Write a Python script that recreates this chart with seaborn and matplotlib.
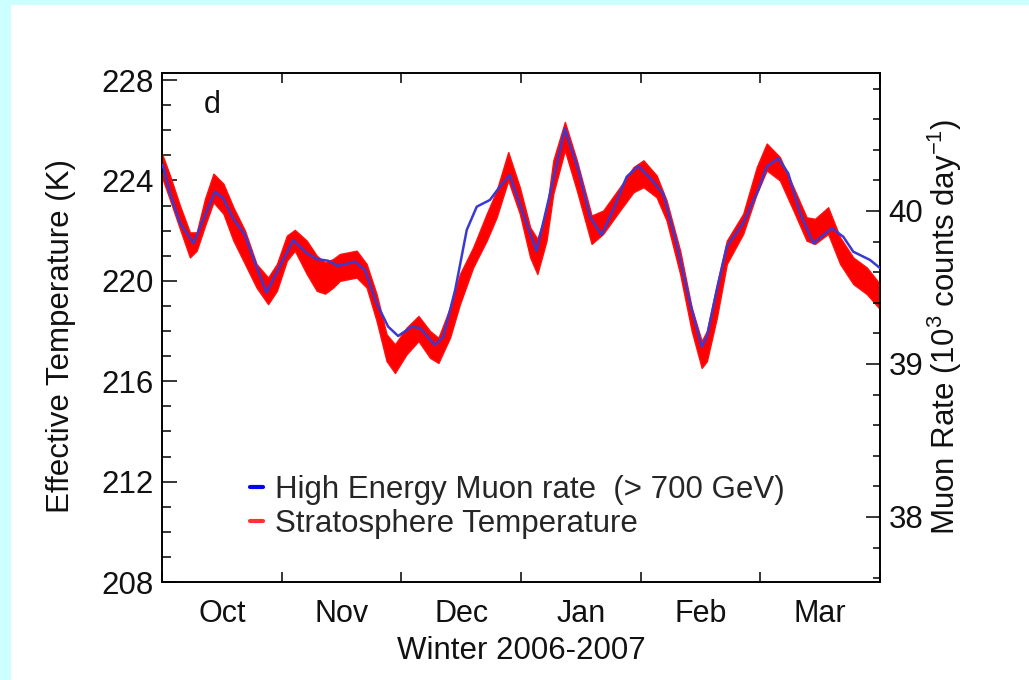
import numpy as np
import matplotlib
matplotlib.use("Agg")
import matplotlib.pyplot as plt
import seaborn as sns
from matplotlib.lines import Line2D
from matplotlib.patches import Rectangle

# ---------------- data ----------------
months = ["Oct", "Nov", "Dec", "Jan", "Feb", "Mar"]

# muon rate (10^3 counts/day), x in days since 1 Oct (30-day months on axis)
muon_day = [0.2, 2.0, 4.5, 7.9, 10.3, 13.3, 15.3, 17.8, 20.8, 23.7, 26.2, 28.7,
            32.9, 36.3, 38.8, 41.6, 44.1, 47.1, 48.4, 50.9, 53.8, 56.7, 59.2,
            62.6, 64.7, 68.4, 70.5, 73.5, 76.4, 78.9, 82.2, 84.7, 87.2, 90.2,
            93.9, 97.3, 101.0, 104.4, 107.3, 110.2, 113.1, 116.5, 119.4, 122.8,
            125.7, 129.0, 132.4, 135.3, 136.6, 139.1, 141.6, 145.7, 149.5,
            151.6, 154.5, 157.0, 160.0, 163.3, 167.9, 170.8, 173.3, 177.5, 180.0]
muon_rate = [40.301, 40.116, 39.922, 39.789, 39.941, 40.126, 40.085, 39.954,
             39.843, 39.636, 39.467, 39.595, 39.810, 39.725, 39.686, 39.675,
             39.641, 39.660, 39.669, 39.614, 39.397, 39.244, 39.183, 39.244,
             39.235, 39.124, 39.178, 39.484, 39.876, 40.028, 40.072, 40.159,
             40.235, 40.007, 39.739, 40.116, 40.536, 40.268, 39.963, 39.843,
             40.007, 40.224, 40.294, 40.203, 40.111, 39.789, 39.397, 39.113,
             39.178, 39.484, 39.767, 39.920, 40.137, 40.290, 40.345, 40.246,
             39.985, 39.789, 39.887, 39.832, 39.734, 39.680, 39.627]

# stratosphere effective temperature band (K)
temp_day = [0.0, 2.0, 4.5, 7.0, 8.7, 10.8, 12.9, 15.4, 17.9, 20.8, 23.7, 26.6,
            28.8, 31.3, 33.3, 36.3, 38.8, 40.9, 42.9, 44.6, 48.8, 51.3, 53.8,
            56.3, 58.4, 61.3, 64.3, 67.2, 69.3, 72.2, 74.7, 78.0, 81.4, 83.9,
            86.8, 89.7, 92.3, 94.1, 96.4, 98.1, 101.0, 104.0, 107.7, 110.6,
            114.8, 118.2, 120.7, 124.0, 126.5, 129.9, 132.8, 135.3, 136.6,
            139.1, 141.6, 145.7, 149.1, 151.6, 154.9, 158.3, 161.6, 163.7,
            167.0, 170.0, 173.3, 176.7, 180.0]
temp_high = [225.07, 224.2, 223.0, 221.93, 221.93, 223.28, 224.27, 223.87,
             222.93, 222.0, 220.67, 220.13, 220.67, 221.8, 222.03, 221.6, 221.0,
             220.73, 220.87, 221.07, 221.2, 220.67, 219.47, 217.87, 217.47,
             218.13, 218.6, 218.0, 217.73, 218.93, 220.27, 221.33, 222.67, 223.6,
             225.13, 223.73, 222.13, 221.67, 222.8, 224.8, 226.33, 224.8, 222.6,
             222.8, 223.73, 224.53, 224.8, 224.2, 223.2, 221.2, 218.93, 217.6,
             218.0, 219.87, 221.6, 222.67, 224.53, 225.47, 224.93, 223.73,
             222.53, 222.47, 222.93, 221.73, 220.93, 220.53, 219.87]
temp_low = [224.13, 223.23, 222.07, 220.93, 221.2, 222.2, 223.13, 222.67, 221.6,
            220.67, 219.73, 219.07, 219.6, 220.8, 221.2, 220.27, 219.6, 219.49,
            219.73, 220.0, 220.13, 219.73, 218.4, 216.8, 216.33, 217.07, 217.6,
            216.93, 216.73, 217.73, 219.07, 220.53, 221.6, 222.53, 224.0, 222.67,
            220.93, 220.27, 221.6, 223.47, 225.2, 223.6, 221.47, 221.87, 222.8,
            223.53, 223.73, 223.33, 222.4, 220.27, 218.0, 216.53, 216.8, 218.53,
            220.67, 221.87, 223.47, 224.4, 224.0, 222.8, 221.6, 221.47, 221.87,
            220.67, 219.87, 219.47, 218.87]

legend_labels = ["High Energy Muon rate  (> 700 GeV)", "Stratosphere Temperature"]

# ---------------- style ----------------
sns.set_theme(style="ticks")
plt.rcParams["font.family"] = ["Liberation Sans", "DejaVu Sans"]
plt.rcParams["mathtext.fontset"] = "custom"
plt.rcParams["mathtext.rm"] = "Liberation Sans"
plt.rcParams["mathtext.it"] = "Liberation Sans:italic"

W, H = 1029, 680
fig = plt.figure(figsize=(W / 100, H / 100), dpi=100, facecolor="#ccffff")
fig.patches.append(Rectangle((11 / W, 0), 1, 1 - 5 / H, transform=fig.transFigure,
                             facecolor="white", edgecolor="none", zorder=-10))

ax = fig.add_axes([162 / W, 1 - 582 / H, 718 / W, 509 / H])
ax.set_facecolor("white")

ax.fill_between(temp_day, temp_low, temp_high, color="#ff0000", lw=1.0,
                edgecolor="#ff1010", joinstyle="round", zorder=2)

ax2 = ax.twinx()
sns.lineplot(x=muon_day, y=muon_rate, ax=ax2, color="#3a3ad2", lw=1.8,
             solid_joinstyle="round", zorder=3)

# x axis
ax.set_xlim(0, 180)
ax.set_xticks(np.arange(0, 181, 30))
ax.set_xticklabels([])
ax.set_xticks(np.arange(15, 180, 30), minor=True)
ax.set_xticklabels(months, minor=True)
ax.tick_params(axis="x", which="major", direction="in", length=7.5, width=1.1,
               top=True, bottom=True, color="black")
ax.tick_params(axis="x", which="minor", length=0, pad=12, labelsize=22,
               labelcolor="#111111")

# left y axis
ax.set_ylim(208, 228.28)
ax.set_yticks(np.arange(208, 229, 4))
ax.set_yticks(np.arange(208, 229, 1), minor=True)
ax.tick_params(axis="y", which="major", direction="in", length=11, width=1.1,
               left=True, right=False, pad=6, labelsize=22.5, labelcolor="#111111",
               color="black")
ax.tick_params(axis="y", which="minor", direction="in", length=6.5, width=1.1,
               left=True, right=False, color="black")

# right y axis
ax2.set_ylim(37.575, 40.902)
ax2.set_yticks([38, 39, 40])
ax2.set_yticks(np.arange(37.6, 40.85, 0.2), minor=True)
ax2.tick_params(axis="y", which="major", direction="in", length=10, width=1.1,
                right=True, left=False, pad=6, labelsize=22.5, labelcolor="#111111",
                color="black")
ax2.tick_params(axis="y", which="minor", direction="in", length=5, width=1.1,
                right=True, left=False, color="black")
ax2.set_xlim(0, 180)

for a in (ax, ax2):
    for s in a.spines.values():
        s.set_color("black")
        s.set_linewidth(1.2)
        s.set_visible(True)

# labels
ax.set_xlabel("Winter 2006-2007", fontsize=22.5, color="#111111")
ax.xaxis.set_label_coords(0.501, -0.136)
ax.xaxis.label.set_va("center")
ax.set_ylabel("Effective Temperature (K)", fontsize=22.5, color="#111111")
ax.yaxis.set_label_coords(-(162 - 61) / 718, (582 - 336) / 509)
ax.yaxis.label.set_va("center")
ax2.set_ylabel("Muon Rate (10$^3$ counts day$^{-1}$)", fontsize=22.5,
               color="#111111")
ax2.yaxis.set_label_coords((945 - 162) / 718, (582 - 327) / 509)
ax2.yaxis.label.set_va("center")

ax.text((212 - 162) / 718, (582 - 105) / 509, "d", transform=ax.transAxes,
        ha="center", va="center", fontsize=22, color="#111111")

handles = [Line2D([], [], color="#0000ff", lw=3),
           Line2D([], [], color="#ff3333", lw=3)]
ax2.legend(handles, legend_labels, loc="center left",
           bbox_to_anchor=((250 - 162) / 718, (582 - 507) / 509),
           frameon=False, fontsize=22.5, handlelength=0.42, handletextpad=0.38,
           labelspacing=0.15, borderpad=0, borderaxespad=0)

fig.savefig("out.png", dpi=100, facecolor=fig.get_facecolor())
